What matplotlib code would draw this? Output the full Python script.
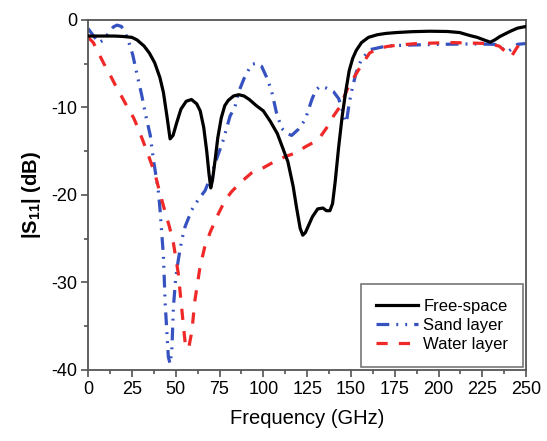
import matplotlib
matplotlib.use("Agg")
import matplotlib.pyplot as plt
from matplotlib.ticker import MultipleLocator

plt.rcParams['font.family'] = ['Liberation Sans', 'DejaVu Sans']
plt.rcParams['mathtext.fontset'] = 'custom'
plt.rcParams['mathtext.rm'] = 'Liberation Sans'
plt.rcParams['mathtext.bf'] = 'Liberation Sans:bold'
plt.rcParams['axes.unicode_minus'] = False

# Free-space
f_free = [0, 5, 10, 15, 20, 25, 28, 32, 35, 38, 41, 43, 45, 46.8, 48.5, 50.5, 53, 56, 59, 62,
          64, 66, 67.7, 69, 70, 71, 72.5, 74, 76, 78, 80, 83, 86, 89, 92, 96, 100, 104, 108, 111,
          114, 117, 119, 121, 122.5, 124, 126, 128, 131, 134, 136, 138, 139.5, 141, 143, 145, 147,
          149, 151, 153, 156, 160, 165, 170, 176, 185, 195, 205, 212, 218, 222, 226, 229.5, 232,
          235, 238, 241, 245, 250]
s_free = [-1.85, -1.85, -1.85, -1.85, -1.9, -2.0, -2.3, -3.0, -3.8, -4.9, -6.6, -8.3, -11.0, -13.6,
          -13.2, -11.8, -10.2, -9.3, -9.1, -9.6, -10.4, -12.3, -15.0, -17.6, -19.2, -18.3, -16.0,
          -13.5, -11.2, -9.8, -9.2, -8.7, -8.55, -8.7, -9.1, -9.8, -10.4, -11.6, -13.0, -14.6,
          -16.2, -19.0, -21.5, -23.8, -24.6, -24.3, -23.4, -22.5, -21.6, -21.5, -21.8, -21.8,
          -21.0, -18.5, -14.5, -11.0, -8.2, -5.8, -4.4, -3.5, -2.6, -2.0, -1.7, -1.55, -1.45,
          -1.35, -1.3, -1.33, -1.45, -1.8, -2.0, -2.3, -2.55, -2.3, -1.9, -1.6, -1.3, -0.95, -0.75]

# Sand layer
f_sand = [0, 3, 6, 9, 12, 14.5, 16.5, 19, 21, 23, 25.5, 28, 30.5, 33, 35.5, 37.3, 40, 41, 43, 44,
          45.8, 46.8, 47.8, 48.7, 50, 51.5, 53.5, 55.4, 59.2, 63, 66.8, 70, 73.5, 77.2, 81, 83.9,
          85.8, 89, 93.2, 96.1, 99, 102.2, 104.8, 107.6, 110.5, 113.5, 116.2, 120, 123.9, 127.7,
          130, 132.4, 136, 140, 143, 145, 146.5, 147.5, 149, 151, 153, 156, 161, 170, 180, 200,
          220, 232, 236, 239, 242, 245, 250]
s_sand = [-1.0, -1.8, -2.6, -2.3, -1.4, -0.8, -0.6, -0.75, -1.4, -2.4, -4.0, -6.3, -8.5, -11.0,
          -13.2, -16.0, -19.4, -21.5, -27.0, -32.4, -38.5, -39.3, -37.7, -32.8, -29.5, -27.4,
          -25.1, -23.6, -21.7, -20.5, -19.5, -17.9, -15.8, -13.7, -11.0, -9.9, -8.3, -6.7, -5.1,
          -4.95, -5.3, -6.7, -8.2, -10.7, -12.4, -13.0, -13.2, -12.5, -11.4, -9.1, -8.0, -7.6,
          -7.8, -8.2, -9.0, -10.3, -11.7, -11.6, -9.5, -7.6, -6.0, -4.5, -3.4, -3.0, -2.9, -2.8,
          -2.75, -2.8, -3.2, -3.7, -3.3, -2.8, -2.7]

# Water layer
f_water = [0, 3, 6, 9, 12.6, 15.4, 19, 22, 26, 29, 32.6, 35, 38.2, 41, 43.9, 46.5, 48.7, 51.5,
           53.5, 55.4, 56.5, 57.5, 59.2, 61, 63.9, 66.5, 69.6, 74, 78.2, 82, 88, 93.2, 100, 108,
           114.2, 118.6, 124, 128.6, 132.4, 136.6, 140, 143.8, 148.6, 155, 160.6, 165, 170.5,
           176, 188, 208, 228, 234.6, 238, 241.5, 244.6, 247, 250]
s_water = [-2.0, -2.6, -3.8, -5.0, -6.3, -7.4, -8.7, -9.8, -11.2, -12.6, -14.5, -15.8, -17.6,
           -19.8, -21.9, -23.7, -25.5, -29.0, -33.1, -36.9, -37.6, -37.4, -35.6, -32.0, -28.2,
           -26.0, -24.3, -22.3, -20.6, -19.6, -18.4, -17.5, -16.9, -16.0, -15.5, -15.2, -14.5,
           -14.0, -13.4, -12.2, -11.0, -9.9, -7.6, -5.5, -3.8, -3.3, -3.05, -2.9, -2.7, -2.6,
           -2.7, -3.0, -3.6, -4.2, -3.2, -2.6, -2.3]

fig = plt.figure(figsize=(5.47, 4.41), dpi=100)
ax = fig.add_axes([0.161, 0.161, 0.801, 0.794])

ax.plot(f_free, s_free, color='black', lw=2.3, label='Free-space', zorder=3)
ax.plot(f_sand, s_sand, color='#3552c0', lw=2.3, dashes=(4, 2.2, 0.6, 2.2, 0.6, 2.2),
        dash_capstyle='butt', label='Sand layer')
ax.plot(f_water, s_water, color='#f02828', lw=2.3, dashes=(3.5, 3.5),
        dash_capstyle='butt', label='Water layer')

ax.set_xlim(0, 250)
ax.set_ylim(-40, 0)
ax.xaxis.set_major_locator(MultipleLocator(25))
ax.xaxis.set_minor_locator(MultipleLocator(12.5))
ax.yaxis.set_major_locator(MultipleLocator(10))
ax.yaxis.set_minor_locator(MultipleLocator(5))
ax.tick_params(which='both', direction='out', color='#444444', labelsize=13, width=1.1,
               top=False, right=False)
ax.tick_params(which='major', length=5, pad=3)
ax.tick_params(which='minor', length=3)
for sp in ax.spines.values():
    sp.set_color('#555555')
    sp.set_linewidth(1.3)

ax.set_xlabel('Frequency (GHz)', fontsize=14.5, labelpad=8)
ax.set_ylabel(r'|S$_\mathbf{11}$| (dB)', fontsize=14.5, labelpad=6, fontweight='bold')

leg = ax.legend(loc='lower right', bbox_to_anchor=(0.993, 0.008), fontsize=12,
                fancybox=False, framealpha=1, edgecolor='#777777', borderaxespad=0,
                handlelength=2.5, handletextpad=0.3, labelspacing=0.25, borderpad=0.9)
leg.get_frame().set_linewidth(1.2)

fig.savefig('out.png', dpi=100)
